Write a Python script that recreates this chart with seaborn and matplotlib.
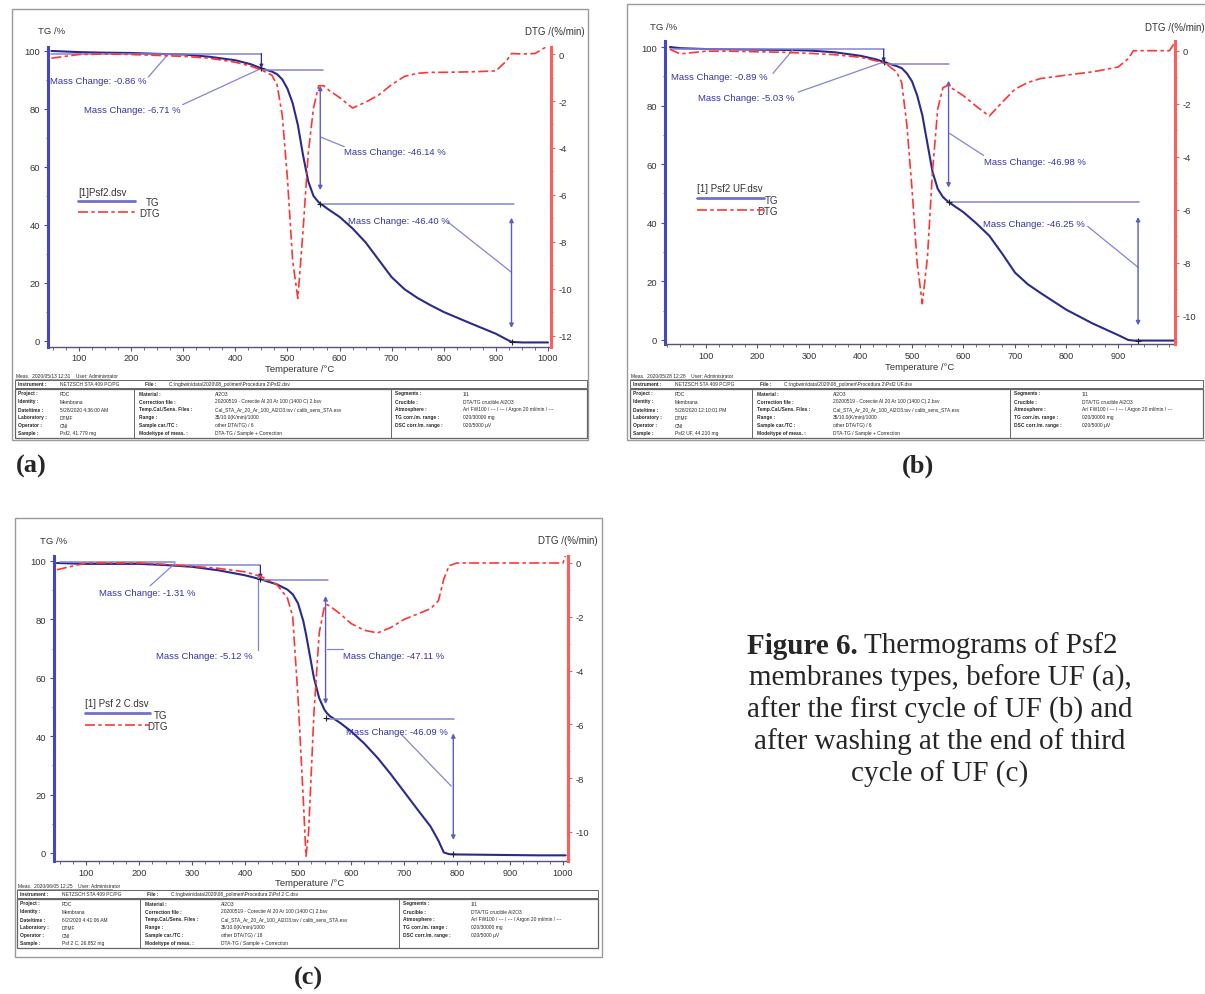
import matplotlib
matplotlib.use("Agg")
import matplotlib.pyplot as plt
from matplotlib.patches import Rectangle
from matplotlib.ticker import MultipleLocator
import seaborn as sns

# TG / DTG curves
temp_a = [47, 100, 150, 200, 250, 300, 350, 400, 430, 450, 470, 480, 490, 500, 510, 520,
          530, 540, 550, 560, 570, 580, 600, 625, 650, 675, 700, 725, 750, 775, 800, 850,
          900, 920, 930, 950, 975, 1000]
tg_a = [100.0, 99.6, 99.4, 99.3, 99.0, 98.8, 98.0, 96.8, 95.4, 94.0, 92.9, 92.0, 90.2, 87.0,
        82.0, 74.5, 64.0, 55.0, 50.0, 47.8, 46.5, 45.2, 42.8, 38.8, 34.0, 28.0, 22.0, 17.8,
        14.8, 12.3, 10.0, 6.2, 2.5, 0.6, -0.3, -0.5, -0.5, -0.5]
dtg_a = [-0.18, -0.02, 0.0, -0.02, -0.06, -0.10, -0.18, -0.35, -0.52, -0.68, -0.9, -1.3, -2.6,
         -5.3, -8.8, -10.4, -7.5, -4.2, -2.3, -1.35, -1.35, -1.55, -1.85, -2.3, -2.05, -1.75,
         -1.3, -0.95, -0.82, -0.78, -0.78, -0.76, -0.72, -0.3, 0.02, 0.0, 0.02, 0.35]

temp_b = [30, 50, 100, 150, 200, 250, 300, 350, 400, 430, 450, 470, 480, 490, 500, 510, 520,
          530, 540, 550, 560, 570, 580, 600, 625, 650, 675, 700, 725, 750, 800, 850, 900, 920,
          930, 950, 975, 1000, 1010]
tg_b = [100.0, 99.6, 99.3, 99.2, 99.1, 99.0, 98.8, 98.2, 97.0, 95.8, 94.6, 93.5, 92.8, 91.0,
        88.3, 83.5, 76.8, 67.0, 57.3, 51.6, 48.8, 47.2, 46.0, 43.6, 39.8, 35.6, 29.5, 23.0,
        19.0, 16.0, 10.3, 5.7, 1.7, 0.0, -0.2, -0.2, -0.2, -0.2, -0.2]
dtg_b = [0.05, -0.12, -0.02, -0.02, -0.04, -0.06, -0.10, -0.15, -0.25, -0.38, -0.50, -0.80,
         -1.20, -2.8, -5.2, -8.0, -9.55, -7.8, -4.5, -2.2, -1.4, -1.3, -1.45, -1.7, -2.1, -2.47,
         -1.95, -1.45, -1.2, -1.05, -0.92, -0.8, -0.62, -0.3, 0.0, 0.0, 0.0, 0.0, 0.3]

temp_c = [45, 100, 150, 200, 250, 300, 350, 400, 430, 460, 480, 490, 500, 510, 515, 520, 530,
          540, 550, 555, 560, 580, 600, 625, 650, 675, 700, 725, 750, 765, 775, 785, 800, 850,
          900, 950, 1000, 1005]
tg_c = [99.3, 99.0, 99.0, 99.0, 98.6, 98.0, 96.8, 95.1, 93.7, 92.0, 90.2, 88.6, 85.5, 79.4,
        75.0, 70.0, 60.0, 53.0, 49.0, 47.8, 46.9, 44.5, 41.7, 37.5, 32.6, 27.0, 21.0, 15.0,
        9.1, 4.2, 0.2, -0.4, -0.5, -0.6, -0.7, -0.8, -0.8, -0.8]
dtg_c = [-0.25, 0.0, 0.0, 0.0, -0.05, -0.12, -0.2, -0.33, -0.5, -0.8, -1.3, -2.0, -5.0, -8.8,
         -10.9, -10.0, -5.6, -2.6, -1.6, -1.55, -1.6, -1.9, -2.25, -2.5, -2.6, -2.4, -2.1,
         -1.9, -1.7, -1.4, -0.6, -0.1, 0.0, 0.0, 0.0, 0.0, 0.0, 0.3]

mass_change_a = [-0.86, -6.71, -46.14, -46.40]
mass_change_b = [-0.89, -5.03, -46.98, -46.25]
mass_change_c = [-1.31, -5.12, -47.11, -46.09]

x_ticks_a = [100, 200, 300, 400, 500, 600, 700, 800, 900, 1000]
x_ticks_b = [100, 200, 300, 400, 500, 600, 700, 800, 900]
tg_ticks = [0, 20, 40, 60, 80, 100]
dtg_ticks_a = [0, -2, -4, -6, -8, -10, -12]
dtg_ticks_bc = [0, -2, -4, -6, -8, -10]

file_names = ['Psf2.dsv', 'Psf2 UF.dsv', 'Psf 2 C.dsv']
legend_names = ['[1]Psf2.dsv', '[1] Psf2 UF.dsv', '[1] Psf 2 C.dsv']
meas_dates = ['2020/05/13 12:31', '2020/05/28 12:28', '2020/06/05 12:25']
run_dates = ['5/28/2020 4:36:00 AM', '5/28/2020 12:10:01 PM', '6/2/2020 4:41:06 AM']
samples = ['Psf2, 41.779 mg', 'Psf2 UF, 44.210 mg', 'Psf 2 C, 26.852 mg']
carriers = ['other DTA/TG) / 6', 'other DTA/TG) / 6', 'other DTA/TG) / 18']
panel_labels = ['(a)', '(b)', '(c)']
caption_lines = ['membranes types, before UF (a),', 'after the first cycle of UF (b) and',
                 'after washing at the end of third', 'cycle of UF (c)']

TG_BLUE = '#2a2a8c'
SPINE_BLUE = '#4646c0'
ANN_BLUE = '#8484d6'
TEXT_BLUE = '#3434a4'
DTG_RED = '#ff3535'
SPINE_RED = '#ff5c5c'

sns.set_style('white')
plt.rcParams['font.family'] = ['Liberation Sans', 'DejaVu Sans']
plt.rcParams['axes.unicode_minus'] = False

W, H = 1205, 995
fig = plt.figure(figsize=(W / 100, H / 100), dpi=100)

canvas = fig.add_axes([0, 0, 1, 1])
canvas.set_xlim(0, W)
canvas.set_ylim(H, 0)
canvas.axis('off')


def px_axes(x0, y0, x1, y1):
    return fig.add_axes([x0 / W, 1 - y1 / H, (x1 - x0) / W, (y1 - y0) / H])


def draw_table(left, right, div1, div2, top, k):
    fs = 3.5
    canvas.text(left + 1, top - 5, f'Meas.  {meas_dates[k]}    User: Administrator', fontsize=fs, va='center')
    canvas.plot([left, left + 95], [top - 1.5, top - 1.5], color='#777777', lw=0.5)
    canvas.add_patch(Rectangle((left, top), right - left, 7.5, fill=False, ec='#666666', lw=0.7))
    canvas.text(left + 3, top + 3.8, 'Instrument :', fontsize=fs, va='center', weight='bold')
    canvas.text(left + 45, top + 3.8, 'NETZSCH STA 409 PC/PG', fontsize=fs, va='center')
    canvas.text(left + 130, top + 3.8, 'File :', fontsize=fs, va='center', weight='bold')
    canvas.text(left + 154, top + 3.8, 'C:\\ngbwin\\data\\2020\\08_polimeri\\Procedura 2\\' + file_names[k],
                fontsize=fs, va='center')
    box_top = top + 8.5
    box_h = 49
    canvas.add_patch(Rectangle((left, box_top), right - left, box_h, fill=False, ec='#666666', lw=0.9))
    canvas.plot([div1, div1], [box_top, box_top + box_h], color='#666666', lw=0.7)
    canvas.plot([div2, div2], [box_top, box_top + box_h], color='#666666', lw=0.7)
    col1 = [('Project :', 'PDC'), ('Identity :', 'Membrana'), ('Date/time :', run_dates[k]),
            ('Laboratory :', 'DTMF'), ('Operator :', 'CNI'), ('Sample :', samples[k])]
    col2 = [('Material :', 'Al2O3'),
            ('Correction file :', '20200519 - Corectie Al 20 Ar 100 (1400 C) 2.bsv'),
            ('Temp.Cal./Sens. Files :', 'Cal_STA_Ar_20_Ar_100_Al2O3.tsv / calib_sens_STA.esv'),
            ('Range :', '35/10.0(K/min)/1000'), ('Sample car./TC :', carriers[k]),
            ('Mode/type of meas. :', 'DTA-TG / Sample + Correction')]
    col3 = [('Segments :', '1/1'), ('Crucible :', 'DTA/TG crucible Al2O3'),
            ('Atmosphere :', 'Ar/ FW100 / --- / --- / Argon 20 ml/min / ---'),
            ('TG corr./m. range :', '020/30000 mg'), ('DSC corr./m. range :', '020/5000 \u00b5V')]
    for cols, lx, vx in [(col1, left + 3, left + 45), (col2, div1 + 5, div1 + 81), (col3, div2 + 4, div2 + 72)]:
        for i, (lab, val) in enumerate(cols):
            y = box_top + 4.5 + 8 * i
            canvas.text(lx, y, lab, fontsize=fs, va='center', weight='bold')
            canvas.text(vx, y, val, fontsize=fs, va='center')


def draw_panel(k, temp, tg, dtg, masses, box, xlim, tg_lim, dtg_lim, x_ticks, dtg_ticks, ann):
    ax = px_axes(*box)
    ax2 = ax.twinx()
    sns.lineplot(x=temp, y=tg, ax=ax, color=TG_BLUE, linewidth=1.5)
    sns.lineplot(x=temp, y=dtg, ax=ax2, color=DTG_RED, linewidth=1.2, linestyle=(0, (6, 2, 2, 2)))
    ax.set_xlim(*xlim)
    ax.set_ylim(*tg_lim)
    ax2.set_ylim(*dtg_lim)
    ax.set_xlabel('')
    ax.set_ylabel('')
    ax2.set_ylabel('')

    for s in ['top', 'right']:
        ax.spines[s].set_visible(False)
    for s in ['top', 'left', 'bottom']:
        ax2.spines[s].set_visible(False)
    ax.spines['left'].set_color(SPINE_BLUE)
    ax.spines['left'].set_linewidth(2.2)
    ax.spines['bottom'].set_color('#555577')
    ax.spines['bottom'].set_linewidth(1.0)
    ax2.spines['right'].set_color(SPINE_RED)
    ax2.spines['right'].set_linewidth(2.2)

    ax.set_xticks(x_ticks)
    ax.xaxis.set_minor_locator(MultipleLocator(25))
    ax.set_yticks(tg_ticks)
    ax.yaxis.set_minor_locator(MultipleLocator(10))
    ax2.set_yticks(dtg_ticks)
    ax2.yaxis.set_minor_locator(MultipleLocator(1))
    ax.tick_params(axis='x', which='both', direction='out', colors='#555577', labelcolor='#333333',
                   labelsize=6.6, pad=1.8, bottom=True)
    ax.tick_params(axis='x', which='major', length=3)
    ax.tick_params(axis='x', which='minor', length=2)
    ax.tick_params(axis='y', which='both', direction='out', colors=SPINE_BLUE, labelcolor='#333333',
                   labelsize=6.8, pad=2.5, left=True)
    ax.tick_params(axis='y', which='major', length=3)
    ax.tick_params(axis='y', which='minor', length=1.5)
    ax2.tick_params(axis='y', which='both', direction='out', colors=SPINE_RED, labelcolor='#333333',
                    labelsize=6.8, pad=2.5, right=True)
    ax2.tick_params(axis='y', which='major', length=3)
    ax2.tick_params(axis='y', which='minor', length=1.5)

    # mass change evaluation marks
    for x0, x1, y in ann['hlines']:
        ax.plot([x0, x1], [y, y], color=ANN_BLUE, lw=1.1)
    for x, y0, y1 in ann['steps']:
        ax.annotate('', xy=(x, y1), xytext=(x, y0),
                    arrowprops=dict(arrowstyle='-|>', color=TG_BLUE, lw=0.9, mutation_scale=5,
                                    shrinkA=0, shrinkB=0))
    for x, y0, y1 in ann['arrows']:
        ax.annotate('', xy=(x, y1), xytext=(x, y0),
                    arrowprops=dict(arrowstyle='<|-|>', color='#5c5cc4', lw=1.0, mutation_scale=6,
                                    shrinkA=0, shrinkB=0))
    for (tx, ty), ((lx0, ly0), (lx1, ly1)), val in zip(ann['text_at'], ann['leaders'], masses):
        ax.text(tx, ty, f'Mass Change: {val:.2f} %', color=TEXT_BLUE, fontsize=6.8, va='center')
        ax.plot([lx0, lx1], [ly0, ly1], color=ANN_BLUE, lw=0.9)
    for x, y in ann['marks']:
        ax.plot([x], [y], marker='+', color='#222222', ms=4, mew=0.8)

    # legend drawn the way the instrument software does it
    lx0, lx1, lab_x, y_title, y_tg, y_dtg = ann['legend']
    ax.text(lx0, y_title, legend_names[k], fontsize=7, color='#333333', va='center')
    ax.plot([lx0, lx1], [y_tg, y_tg], color='#7070d0', lw=2.0)
    ax2_y = dtg_lim[0] + (y_dtg - tg_lim[0]) / (tg_lim[1] - tg_lim[0]) * (dtg_lim[1] - dtg_lim[0])
    ax2.plot([lx0, lx1], [ax2_y, ax2_y], color=DTG_RED, lw=1.2, linestyle=(0, (6, 2, 2, 2)))
    ax.text(lab_x, y_tg - 0.5, 'TG', fontsize=7, color='#333333', ha='right', va='center')
    ax.text(lab_x, y_dtg - 0.5, 'DTG', fontsize=7, color='#333333', ha='right', va='center')
    return ax


ann_a = dict(
    hlines=[(47, 450, 99.1), (450, 568, 93.4), (565, 935, 47.2)],
    steps=[(450, 99.1, 94.0)],
    arrows=[(563, 88.0, 52.0), (930, 42.5, 4.5)],
    text_at=[(45, 89.7), (110, 79.9), (609, 65.3), (616, 41.4)],
    leaders=[((233, 91.0), (272, 99.1)), ((299, 81.5), (450, 94.0)),
             ((564, 70.3), (609, 67.0)), ((808, 41.0), (930, 23.7))],
    marks=[(450, 94.0), (563, 47.3), (930, -0.5)],
    legend=(98, 207, 254, 51.5, 48.3, 44.6),
)
ann_b = dict(
    hlines=[(30, 445, 99.2), (448, 572, 94.3), (572, 940, 47.2)],
    steps=[(445, 99.2, 94.8)],
    arrows=[(571, 88.5, 52.0), (939, 42.0, 5.0)],
    text_at=[(33, 90.0), (84, 82.8), (639, 61.0), (637, 39.9)],
    leaders=[((230, 91.0), (268, 98.9)), ((279, 84.6), (450, 95.2)),
             ((573, 70.5), (639, 63.0)), ((841, 38.8), (939, 24.8))],
    marks=[(445, 94.8), (571, 47.2), (939, -0.2)],
    legend=(82, 213, 240, 51.8, 48.4, 44.5),
)
ann_c = dict(
    hlines=[(50, 268, 99.5), (268, 429, 98.5), (429, 557, 93.4), (555, 795, 46.0)],
    steps=[(429, 98.5, 94.0)],
    arrows=[(552, 88.0, 51.0), (793, 41.0, 4.5)],
    text_at=[(124, 89.1), (232, 67.7), (584, 67.7), (591, 41.7)],
    leaders=[((221, 91.5), (268, 99.2)), ((424, 69.5), (424, 95.5)),
             ((555, 70.0), (584, 70.0)), ((695, 40.6), (789, 22.9))],
    marks=[(429, 93.7), (552, 46.2), (793, -0.5)],
    legend=(99, 221, 254, 51.2, 47.8, 44.0),
)

# panel frames
for x0, y0, x1, y1 in [(12, 10, 588, 441), (627, 5, 1215, 441), (15, 519, 602, 958)]:
    canvas.add_patch(Rectangle((x0, y0), x1 - x0, y1 - y0, fill=False, ec='#9a9a9a', lw=1.0))

draw_panel(0, temp_a, tg_a, dtg_a, mass_change_a, (48, 47.6, 551, 347.8), (40.5, 1005.8),
           (-2.0, 101.5), (-12.46, 0.315), x_ticks_a, dtg_ticks_a, ann_a)
draw_panel(1, temp_b, tg_b, dtg_b, mass_change_b, (665, 42, 1175, 345), (20.4, 1010.7),
           (-1.37, 102.05), (-11.07, 0.366), x_ticks_b, dtg_ticks_bc, ann_b)
draw_panel(2, temp_c, tg_c, dtg_c, mass_change_c, (54, 557, 568, 862), (39.6, 1009.4),
           (-2.74, 101.7), (-11.08, 0.26), x_ticks_a, dtg_ticks_bc, ann_c)

# axis titles as the instrument prints them
for tx, ty, dx, dy, mx, my in [(38, 32, 585, 32, 300, 370), (650, 28, 1145, 28, 920, 368),
                               (40, 541, 598, 541, 310, 884)]:
    canvas.text(tx, ty, 'TG /%', fontsize=6.8, color='#333333', va='center')
    if dx > 1100:
        canvas.text(dx, dy, 'DTG /(%/min)', fontsize=7, color='#333333', va='center')
    else:
        canvas.text(dx, dy, 'DTG /(%/min)', fontsize=7, color='#333333', va='center', ha='right')
    canvas.text(mx, my, 'Temperature /\u00b0C', fontsize=6.8, color='#333333', va='center', ha='center')

draw_table(15, 587, 134, 391, 381, 0)
draw_table(630, 1203, 752, 1010, 381, 1)
draw_table(17, 598, 140, 399, 891, 2)

serif = ['Liberation Serif', 'DejaVu Serif']
for (px, py), lab in zip([(31, 466), (918, 466), (308, 978)], panel_labels):
    canvas.text(px, py, lab, fontsize=19, weight='bold', family=serif, ha='center', va='center')

canvas.text(858, 646, 'Figure 6.', fontsize=21, weight='bold', family=serif, ha='right', va='center')
canvas.text(864, 646, 'Thermograms of Psf2', fontsize=21, family=serif, ha='left', va='center')
for i, line in enumerate(caption_lines):
    canvas.text(940, 678 + 32 * i, line, fontsize=21, family=serif, ha='center', va='center')

fig.savefig('out.png', dpi=100)
